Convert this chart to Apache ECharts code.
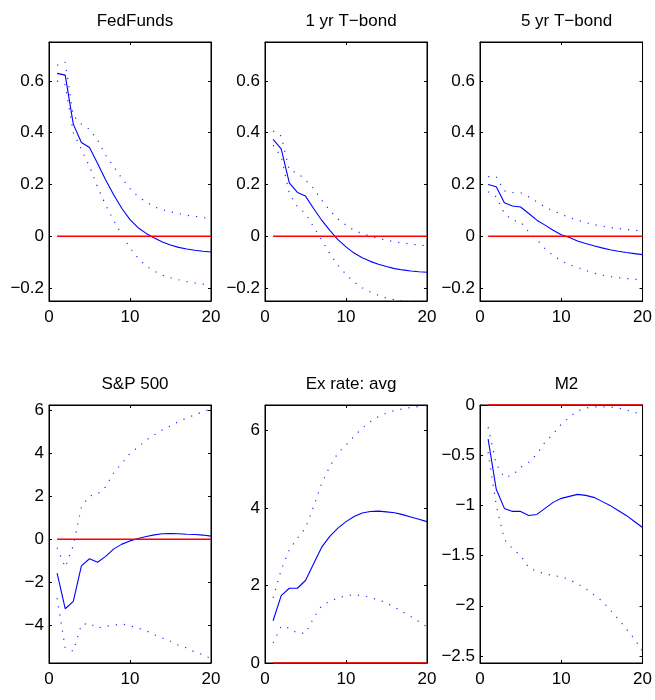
<!DOCTYPE html>
<html>
<head>
<meta charset="utf-8">
<title>Impulse responses</title>
<script src="https://cdn.jsdelivr.net/npm/echarts@6/dist/echarts.min.js"></script>
<style>
  html, body { margin: 0; padding: 0; background: #ffffff; }
  #chart { width: 655px; height: 700px; }
</style>
</head>
<body>
<div id="chart"></div>
<script>
// Horizon (quarters after the shock)
const horizon = [1, 2, 3, 4, 5, 6, 7, 8, 9, 10, 11, 12, 13, 14, 15, 16, 17, 18, 19, 20];

const panelTitles = ['FedFunds', '1 yr T\u2212bond', '5 yr T\u2212bond', 'S&P 500', 'Ex rate: avg', 'M2'];

// Y tick values per panel
const rateTicks = [-0.2, 0, 0.2, 0.4, 0.6];
const spTicks = [-4, -2, 0, 2, 4, 6];
const fxTicks = [0, 2, 4, 6];
const m2Ticks = [-2.5, -2, -1.5, -1, -0.5, 0];
const xTicks = [0, 10, 20];

// FedFunds
const fedFunds      = [0.629, 0.622, 0.433, 0.362, 0.343, 0.281, 0.217, 0.159, 0.107, 0.064, 0.033, 0.011, -0.007, -0.022, -0.034, -0.043, -0.049, -0.054, -0.058, -0.061];
const fedFundsUpper = [0.660, 0.672, 0.465, 0.433, 0.413, 0.371, 0.313, 0.268, 0.223, 0.184, 0.152, 0.133, 0.113, 0.103, 0.094, 0.088, 0.081, 0.077, 0.072, 0.068];
const fedFundsLower = [0.600, 0.585, 0.400, 0.335, 0.270, 0.190, 0.120, 0.060, 0.005, -0.045, -0.085, -0.115, -0.135, -0.150, -0.160, -0.168, -0.175, -0.180, -0.185, -0.190];

// 1 yr T-bond
const bond1y      = [0.374, 0.337, 0.206, 0.169, 0.155, 0.107, 0.062, 0.023, -0.013, -0.041, -0.065, -0.083, -0.097, -0.108, -0.117, -0.125, -0.130, -0.134, -0.137, -0.139];
const bond1yUpper = [0.406, 0.387, 0.255, 0.245, 0.217, 0.185, 0.139, 0.100, 0.067, 0.043, 0.023, 0.010, 0.001, -0.009, -0.015, -0.022, -0.026, -0.030, -0.034, -0.037];
const bond1yLower = [0.352, 0.307, 0.165, 0.114, 0.088, 0.036, -0.015, -0.067, -0.112, -0.147, -0.177, -0.199, -0.215, -0.228, -0.239, -0.245, -0.250, -0.254, -0.258, -0.262];

// 5 yr T-bond
const bond5y      = [0.200, 0.191, 0.129, 0.117, 0.113, 0.088, 0.062, 0.043, 0.023, 0.006, -0.005, -0.018, -0.028, -0.037, -0.045, -0.052, -0.058, -0.063, -0.067, -0.071];
const bond5yUpper = [0.230, 0.230, 0.175, 0.169, 0.168, 0.152, 0.133, 0.113, 0.098, 0.085, 0.072, 0.062, 0.053, 0.045, 0.039, 0.034, 0.030, 0.026, 0.023, 0.021];
const bond5yLower = [0.172, 0.152, 0.088, 0.062, 0.055, 0.017, -0.013, -0.048, -0.074, -0.095, -0.110, -0.120, -0.132, -0.142, -0.150, -0.155, -0.160, -0.163, -0.166, -0.168];

// S&P 500
const sp500      = [-1.58, -3.23, -2.89, -1.24, -0.91, -1.07, -0.80, -0.45, -0.23, -0.08, 0.03, 0.12, 0.20, 0.25, 0.26, 0.25, 0.23, 0.22, 0.19, 0.14];
const sp500Upper = [-0.40, -1.30, -0.30, 1.50, 2.00, 2.10, 2.44, 3.09, 3.52, 3.99, 4.27, 4.60, 4.84, 5.07, 5.26, 5.46, 5.63, 5.77, 5.92, 6.04];
const sp500Lower = [-2.74, -5.05, -5.20, -3.97, -3.90, -4.13, -4.05, -3.99, -3.94, -4.02, -4.13, -4.25, -4.44, -4.59, -4.74, -4.93, -5.05, -5.24, -5.36, -5.55];

// Exchange rate (average)
const exRate      = [1.09, 1.74, 1.93, 1.93, 2.13, 2.56, 2.99, 3.27, 3.48, 3.65, 3.78, 3.87, 3.91, 3.92, 3.90, 3.88, 3.83, 3.77, 3.71, 3.65];
const exRateUpper = [1.68, 2.41, 2.92, 3.22, 3.48, 4.04, 4.64, 5.07, 5.42, 5.63, 5.85, 6.06, 6.23, 6.36, 6.45, 6.52, 6.56, 6.60, 6.62, 6.65];
const exRateLower = [0.52, 0.95, 0.90, 0.77, 0.77, 1.16, 1.48, 1.59, 1.68, 1.74, 1.76, 1.74, 1.69, 1.63, 1.55, 1.44, 1.32, 1.20, 1.07, 0.93];

// M2
const m2      = [-0.34, -0.84, -1.03, -1.06, -1.06, -1.10, -1.09, -1.03, -0.97, -0.93, -0.91, -0.89, -0.90, -0.92, -0.96, -1.00, -1.05, -1.10, -1.16, -1.22];
const m2Upper = [-0.22, -0.59, -0.72, -0.70, -0.62, -0.57, -0.49, -0.37, -0.29, -0.19, -0.12, -0.06, -0.03, -0.02, -0.017, -0.02, -0.03, -0.05, -0.07, -0.10];
const m2Lower = [-0.47, -1.00, -1.34, -1.43, -1.50, -1.62, -1.66, -1.68, -1.70, -1.71, -1.74, -1.78, -1.83, -1.89, -1.95, -2.04, -2.13, -2.23, -2.33, -2.45];

const panels = [
  { title: panelTitles[0], mid: fedFunds, up: fedFundsUpper, lo: fedFundsLower, ticks: rateTicks, min: -0.25, max: 0.75 },
  { title: panelTitles[1], mid: bond1y,   up: bond1yUpper,   lo: bond1yLower,   ticks: rateTicks, min: -0.25, max: 0.75 },
  { title: panelTitles[2], mid: bond5y,   up: bond5yUpper,   lo: bond5yLower,   ticks: rateTicks, min: -0.25, max: 0.75 },
  { title: panelTitles[3], mid: sp500,    up: sp500Upper,    lo: sp500Lower,    ticks: spTicks,   min: -5.75, max: 6.23 },
  { title: panelTitles[4], mid: exRate,   up: exRateUpper,   lo: exRateLower,   ticks: fxTicks,   min: 0,     max: 6.66 },
  { title: panelTitles[5], mid: m2,       up: m2Upper,       lo: m2Lower,       ticks: m2Ticks,   min: -2.57, max: 0 }
];

// Subplot rectangles (px)
const rects = [
  { left: 49,  top: 42,  width: 162, height: 259 },
  { left: 265, top: 42,  width: 162, height: 259 },
  { left: 480, top: 42,  width: 163, height: 259 },
  { left: 49,  top: 405, width: 162, height: 258 },
  { left: 265, top: 405, width: 162, height: 258 },
  { left: 480, top: 405, width: 163, height: 258 }
];

const FONT = "'Liberation Sans', Arial, Helvetica, sans-serif";
const fmt = v => (v < 0 ? '\u2212' + String(Math.abs(v)) : String(v));
const pairs = arr => horizon.map((h, i) => [h, arr[i]]);

const grid = [], xAxis = [], yAxis = [], series = [], title = [];

panels.forEach((p, i) => {
  const r = rects[i];
  grid.push({ left: r.left, top: r.top, width: r.width, height: r.height,
              show: true, borderColor: '#000', borderWidth: 1, backgroundColor: '#fff' });

  title.push({
    text: p.title,
    left: r.left + r.width / 2,
    top: i < 3 ? 8 : 371,
    textAlign: 'center',
    textStyle: { fontFamily: FONT, fontSize: 17, fontWeight: 'normal', color: '#000' }
  });

  const xBase = {
    type: 'value', gridIndex: i, min: 0, max: 20, interval: 10,
    axisLine: { show: true, onZero: false, lineStyle: { color: '#000', width: 1 } },
    axisTick: { show: true, inside: true, length: 3, lineStyle: { color: '#000' } },
    splitLine: { show: false }
  };
  xAxis.push(Object.assign({}, xBase, {
    position: 'bottom',
    axisLabel: { show: true, margin: 8, fontFamily: FONT, fontSize: 17, color: '#000',
                 customValues: xTicks, showMinLabel: true, showMaxLabel: true }
  }));
  xAxis.push(Object.assign({}, xBase, { position: 'top', axisLabel: { show: false } }));

  const yBase = {
    type: 'value', gridIndex: i, min: p.min, max: p.max,
    axisLine: { show: true, onZero: false, lineStyle: { color: '#000', width: 1 } },
    axisTick: { show: true, inside: true, length: 3, customValues: p.ticks, lineStyle: { color: '#000' } },
    splitLine: { show: false }
  };
  yAxis.push(Object.assign({}, yBase, {
    position: 'left',
    axisLabel: { show: true, margin: 5, fontFamily: FONT, fontSize: 17, color: '#000',
                 customValues: p.ticks, formatter: fmt }
  }));
  yAxis.push(Object.assign({}, yBase, { position: 'right', axisLabel: { show: false } }));

  const bandStyle = { color: '#2a2aff', width: 1.2, type: [1.2, 7] };
  series.push({
    type: 'line', xAxisIndex: 2 * i, yAxisIndex: 2 * i, data: pairs(p.up),
    symbol: 'none', lineStyle: bandStyle, silent: true, animation: false
  });
  series.push({
    type: 'line', xAxisIndex: 2 * i, yAxisIndex: 2 * i, data: pairs(p.lo),
    symbol: 'none', lineStyle: bandStyle, silent: true, animation: false
  });
  series.push({
    type: 'line', xAxisIndex: 2 * i, yAxisIndex: 2 * i, data: pairs(p.mid),
    symbol: 'none', lineStyle: { color: '#0000ff', width: 1.1 }, silent: true, animation: false
  });
  series.push({
    type: 'line', xAxisIndex: 2 * i, yAxisIndex: 2 * i, clip: false,
    data: [[horizon[0], 0], [horizon[horizon.length - 1], 0]],
    symbol: 'none', lineStyle: { color: '#ff0000', width: 1.5 }, silent: true, animation: false
  });
});

const chart = echarts.init(document.getElementById('chart'), null, { renderer: 'canvas' });
chart.setOption({ backgroundColor: '#fff', animation: false, title, grid, xAxis, yAxis, series });
</script>
</body>
</html>
